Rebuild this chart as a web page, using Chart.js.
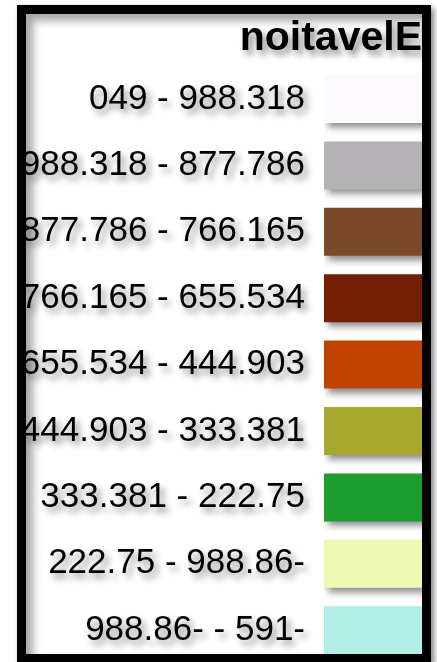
<!DOCTYPE html>
<html>
<head>
<meta charset="utf-8">
<script src="https://cdn.jsdelivr.net/npm/chart.js@4"></script>
<style>
  html, body { margin:0; padding:0; background:#fff; width:437px; height:662px; overflow:hidden; }
  .frame {
    position:absolute; left:17px; top:5px; width:396px; height:640px;
    border:9px solid #000; overflow:hidden; background:#fff;
    box-shadow: inset 7px 7px 9px rgba(0,0,0,.35), 3px 3px 6px rgba(0,0,0,.5);
  }
  .frame canvas { position:absolute; left:-4px; top:0; }
</style>
</head>
<body>
<div class="frame"><canvas id="legendChart" width="400" height="660" style="width:400px;height:660px"></canvas></div>
<script>
/* Elevation legend: one swatch per class, label on the left */
const title = "noitavelE";
const classes = [
  "049 - 988.318",
  "988.318 - 877.786",
  "877.786 - 766.165",
  "766.165 - 655.534",
  "655.534 - 444.903",
  "444.903 - 333.381",
  "333.381 - 222.75",
  "222.75 - 988.86-",
  "988.86- - 591-",
];
const swatch = [1, 1, 1, 1, 1, 1, 1, 1, 1];
const colors = ["#FCFAFE","#B4B2B5","#7C4A2A","#731E00","#C04400","#A7A92E","#1C9E2E","#EEFAB4","#B0EEE6"];

(function () {
  // soft drop shadow under every text and swatch
  const shadow = {
    id: "dropShadow",
    beforeDraw(chart) {
      const c = chart.ctx;
      c.shadowColor = "rgba(0,0,0,0.45)";
      c.shadowBlur = 7;
      c.shadowOffsetX = 4;
      c.shadowOffsetY = 5;
    },
    afterDraw(chart) {
      const c = chart.ctx;
      c.shadowColor = "transparent";
      c.shadowBlur = 0; c.shadowOffsetX = 0; c.shadowOffsetY = 0;
    }
  };

  new Chart(document.getElementById("legendChart"), {
    type: "bar",
    data: {
      labels: classes,
      datasets: [{ data: swatch, backgroundColor: colors, borderWidth: 0, barPercentage: 0.723, categoryPercentage: 1 }]
    },
    options: {
      indexAxis: "y",
      responsive: false, animation: false, devicePixelRatio: 1,
      layout: { padding: { top: 0, right: 0, bottom: 10.6, left: 0 } },
      plugins: {
        legend: { display: false }, tooltip: { enabled: false },
        title: {
          display: true, text: title, align: "end", color: "#000",
          font: { family: "'Liberation Sans', Arial, sans-serif", size: 41, weight: "bold", lineHeight: 1.1 },
          padding: { top: 2, bottom: 4.7 }
        }
      },
      scales: {
        x: { display: false, min: 0, max: 1 },
        y: {
          grid: { display: false, drawTicks: false }, border: { display: false },
          ticks: { color: "#000", padding: 19, font: { family: "'Liberation Sans', Arial, sans-serif", size: 35 } },
          // labels run into the left border, so fix the axis width by hand
          afterFit(s) { s.width = 302; s.paddingTop = 0; s.paddingBottom = 0; }
        }
      }
    },
    plugins: [shadow]
  });
})();
</script>
</body>
</html>
